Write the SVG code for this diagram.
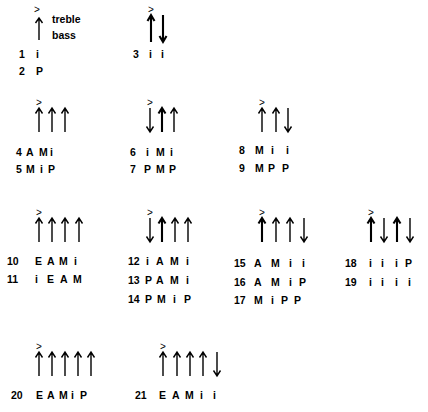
<svg xmlns="http://www.w3.org/2000/svg" width="428" height="412" viewBox="0 0 428 412">
<style>
text{font-family:"Liberation Sans",Arial,sans-serif;fill:#000}
.t{font-size:10.5px;font-weight:bold}
.acc{font-size:10px}
.a{stroke:#000;stroke-width:1.4;fill:none}
.A{stroke:#000;stroke-width:2.1;fill:none}
</style>
<defs>
<path id="up" d="M0,24 L0,0 M-3.5,5.5 L0,0 L3.5,5.5"/>
<path id="dn" d="M0,0 L0,24 M-3.5,18.5 L0,24 L3.5,18.5"/>
<path id="upL" d="M0,27 L0,0 M-3.5,6 L0,0 L3.5,6"/>
<path id="dnL" d="M0,0 L0,27 M-3.5,21 L0,27 L3.5,21"/>
</defs>
<rect width="428" height="412" fill="#fff"/>

<g id="p1">
<text class="acc" x="34" y="13">&gt;</text>
<path class="a" d="M39,40 L39,18 M35.5,23 L39,18 L42.5,23"/>
<text class="t" x="52" y="23">treble</text>
<text class="t" x="52" y="39">bass</text>
<text class="t" x="19" y="58">1</text><text class="t" x="36" y="58">i</text>
<text class="t" x="19" y="75">2</text><text class="t" x="36" y="75">P</text>
</g>

<g id="p3">
<text class="acc" x="148" y="13">&gt;</text>
<use href="#upL" class="A" x="151" y="15"/>
<use href="#dnL" class="A" x="163" y="15"/>
<text class="t" x="133" y="58">3</text><text class="t" x="149" y="58">i</text><text class="t" x="161" y="58">i</text>
</g>

<g id="p4">
<text class="acc" x="36" y="106">&gt;</text>
<use href="#up" class="a" x="39" y="108"/>
<use href="#up" class="a" x="52" y="108"/>
<use href="#up" class="a" x="65" y="108"/>
<text class="t" x="16" y="156">4</text><text class="t" x="26" y="156">A</text><text class="t" x="39" y="156">M</text><text class="t" x="50" y="156">i</text>
<text class="t" x="16" y="173">5</text><text class="t" x="26" y="173">M</text><text class="t" x="40" y="173">i</text><text class="t" x="48" y="173">P</text>
</g>

<g id="p6">
<text class="acc" x="147" y="106">&gt;</text>
<use href="#dn" class="a" x="150" y="108"/>
<use href="#up" class="A" x="162" y="108"/>
<use href="#up" class="a" x="174" y="108"/>
<text class="t" x="130" y="156">6</text><text class="t" x="146" y="156">i</text><text class="t" x="156" y="156">M</text><text class="t" x="170" y="156">i</text>
<text class="t" x="130" y="173">7</text><text class="t" x="144" y="173">P</text><text class="t" x="156" y="173">M</text><text class="t" x="169" y="173">P</text>
</g>

<g id="p8">
<text class="acc" x="259" y="106">&gt;</text>
<use href="#up" class="a" x="262" y="108"/>
<use href="#up" class="a" x="276" y="108"/>
<use href="#dn" class="a" x="288" y="108"/>
<text class="t" x="239" y="154">8</text><text class="t" x="255" y="154">M</text><text class="t" x="271" y="154">i</text><text class="t" x="286" y="154">i</text>
<text class="t" x="239" y="172">9</text><text class="t" x="255" y="172">M</text><text class="t" x="268" y="172">P</text><text class="t" x="282" y="172">P</text>
</g>

<g id="p10">
<text class="acc" x="36" y="216">&gt;</text>
<use href="#up" class="a" x="39" y="218"/>
<use href="#up" class="a" x="52" y="218"/>
<use href="#up" class="a" x="65" y="218"/>
<use href="#up" class="a" x="79" y="218"/>
<text class="t" x="7" y="265">10</text><text class="t" x="35" y="265">E</text><text class="t" x="47" y="265">A</text><text class="t" x="59" y="265">M</text><text class="t" x="74" y="265">i</text>
<text class="t" x="7" y="283">11</text><text class="t" x="35" y="283">i</text><text class="t" x="47" y="283">E</text><text class="t" x="60" y="283">A</text><text class="t" x="73" y="283">M</text>
</g>

<g id="p12">
<text class="acc" x="147" y="216">&gt;</text>
<use href="#dn" class="a" x="150" y="218"/>
<use href="#up" class="A" x="162" y="218"/>
<use href="#up" class="a" x="175" y="218"/>
<use href="#up" class="a" x="188" y="218"/>
<text class="t" x="128" y="265">12</text><text class="t" x="146" y="265">i</text><text class="t" x="156" y="265">A</text><text class="t" x="170" y="265">M</text><text class="t" x="186" y="265">i</text>
<text class="t" x="128" y="284">13</text><text class="t" x="145" y="284">P</text><text class="t" x="156" y="284">A</text><text class="t" x="170" y="284">M</text><text class="t" x="186" y="284">i</text>
<text class="t" x="128" y="303">14</text><text class="t" x="145" y="303">P</text><text class="t" x="157" y="303">M</text><text class="t" x="173" y="303">i</text><text class="t" x="184" y="303">P</text>
</g>

<g id="p15">
<text class="acc" x="259" y="216">&gt;</text>
<use href="#up" class="A" x="262" y="218"/>
<use href="#up" class="a" x="276" y="218"/>
<use href="#up" class="a" x="290" y="218"/>
<use href="#dn" class="a" x="304" y="218"/>
<text class="t" x="234" y="267">15</text><text class="t" x="254" y="267">A</text><text class="t" x="271" y="267">M</text><text class="t" x="289" y="267">i</text><text class="t" x="302" y="267">i</text>
<text class="t" x="234" y="286">16</text><text class="t" x="254" y="286">A</text><text class="t" x="271" y="286">M</text><text class="t" x="289" y="286">i</text><text class="t" x="299" y="286">P</text>
<text class="t" x="234" y="304">17</text><text class="t" x="254" y="304">M</text><text class="t" x="271" y="304">i</text><text class="t" x="281" y="304">P</text><text class="t" x="294" y="304">P</text>
</g>

<g id="p18">
<text class="acc" x="368" y="216">&gt;</text>
<use href="#up" class="A" x="371" y="218"/>
<use href="#dn" class="a" x="384" y="218"/>
<use href="#up" class="A" x="397" y="218"/>
<use href="#dn" class="a" x="410" y="218"/>
<text class="t" x="345" y="267">18</text><text class="t" x="369" y="267">i</text><text class="t" x="381" y="267">i</text><text class="t" x="395" y="267">i</text><text class="t" x="405" y="267">P</text>
<text class="t" x="345" y="286">19</text><text class="t" x="369" y="286">i</text><text class="t" x="381" y="286">i</text><text class="t" x="395" y="286">i</text><text class="t" x="408" y="286">i</text>
</g>

<g id="p20">
<text class="acc" x="36" y="350">&gt;</text>
<use href="#up" class="a" x="39" y="352"/>
<use href="#up" class="a" x="52" y="352"/>
<use href="#up" class="a" x="65" y="352"/>
<use href="#up" class="a" x="78" y="352"/>
<use href="#up" class="a" x="91" y="352"/>
<text class="t" x="11" y="399">20</text><text class="t" x="36" y="399">E</text><text class="t" x="47" y="399">A</text><text class="t" x="59" y="399">M</text><text class="t" x="71" y="399">i</text><text class="t" x="80" y="399">P</text>
</g>

<g id="p21">
<text class="acc" x="160" y="350">&gt;</text>
<use href="#up" class="a" x="163" y="352"/>
<use href="#up" class="a" x="177" y="352"/>
<use href="#up" class="a" x="190" y="352"/>
<use href="#up" class="a" x="203" y="352"/>
<use href="#dn" class="a" x="217" y="352"/>
<text class="t" x="135" y="399">21</text><text class="t" x="159" y="399">E</text><text class="t" x="172" y="399">A</text><text class="t" x="185" y="399">M</text><text class="t" x="200" y="399">i</text><text class="t" x="213" y="399">i</text>
</g>

<g id="connectors"/>
</svg>
